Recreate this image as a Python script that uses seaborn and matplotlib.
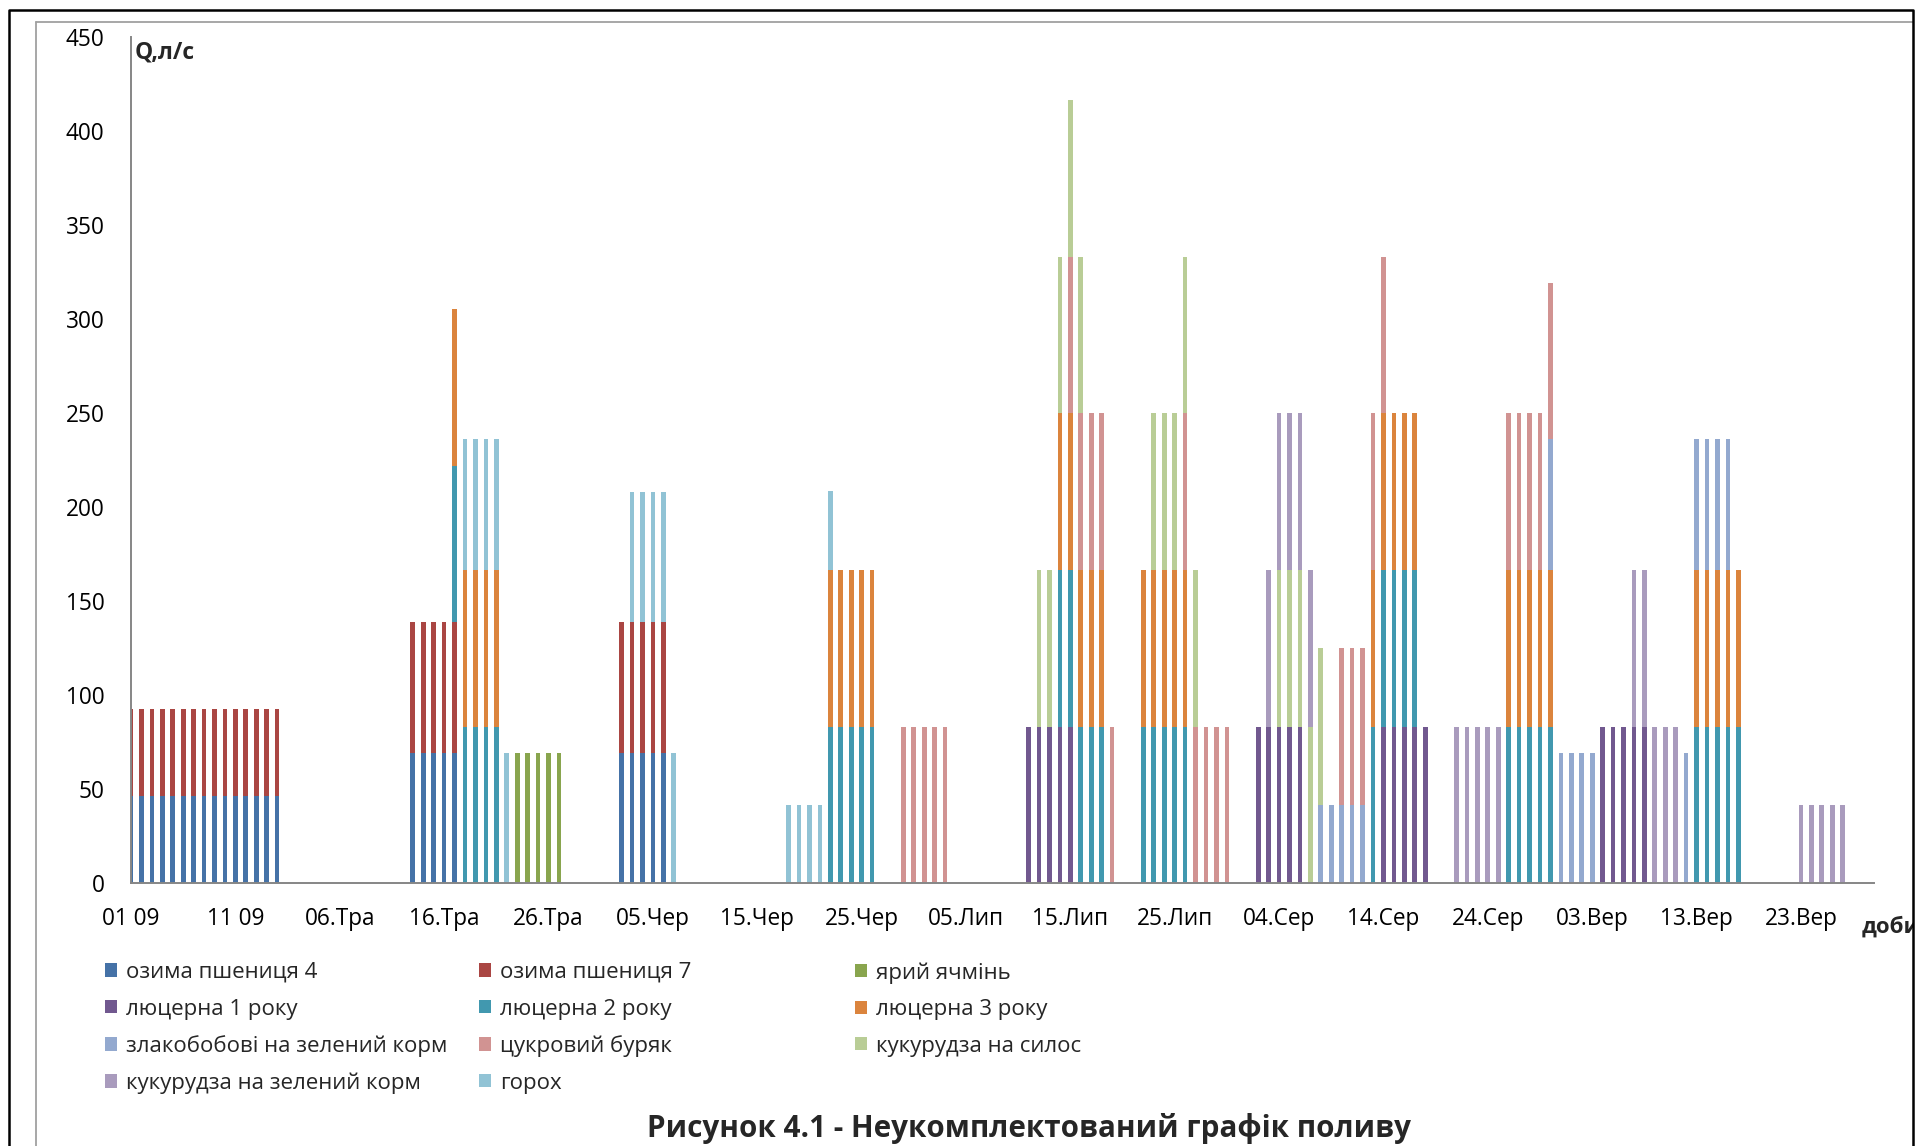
import numpy as np
import pandas as pd
import matplotlib
matplotlib.use("Agg")
import matplotlib.pyplot as plt
from matplotlib.patches import Patch, Rectangle
from matplotlib.lines import Line2D
import seaborn as sns

# Crops in stacking order (bottom to top) and their colours
crops = [
    "озима пшениця 4", "озима пшениця 7", "ярий ячмінь",
    "люцерна 1 року", "люцерна 2 року", "люцерна 3 року",
    "злакобобові на зелений корм", "цукровий буряк", "кукурудза на силос",
    "кукурудза на зелений корм", "горох",
]
colors = [
    "#4572A7", "#AA4643", "#89A54E",
    "#71588F", "#4198AF", "#DB843D",
    "#93A9CF", "#D19392", "#B9CD96",
    "#A99BBD", "#91C3D5",
]

# Irrigation periods of each crop: (first day, last day, Q in l/s); day 0 = 16 April
winter_wheat_4 = [(0, 14, 46.3), (27, 31, 69.4), (47, 51, 69.4)]
winter_wheat_7 = [(0, 14, 46.3), (27, 31, 69.4), (47, 51, 69.4)]
spring_barley = [(37, 41, 69.4)]
alfalfa_1 = [(86, 90, 83.3), (108, 112, 83.3), (120, 124, 83.3), (141, 145, 83.3)]
alfalfa_2 = [(31, 35, 83.3), (67, 71, 83.3), (89, 93, 83.3), (97, 101, 83.3),
             (119, 123, 83.3), (132, 136, 83.3), (150, 154, 83.3)]
alfalfa_3 = [(31, 35, 83.3), (67, 71, 83.3), (89, 93, 83.3), (97, 101, 83.3),
             (119, 123, 83.3), (132, 136, 83.3), (150, 154, 83.3)]
grass_legume = [(114, 118, 41.7), (136, 140, 69.4), (149, 153, 69.4)]
sugar_beet = [(74, 78, 83.3), (90, 94, 83.3), (101, 105, 83.3), (116, 120, 83.3),
              (132, 136, 83.3)]
maize_silage = [(87, 91, 83.3), (98, 102, 83.3), (110, 114, 83.3)]
maize_green = [(109, 113, 83.3), (127, 131, 83.3), (144, 148, 83.3), (160, 164, 41.7)]
peas = [(32, 36, 69.4), (48, 52, 69.4), (63, 67, 41.7)]

periods = [winter_wheat_4, winter_wheat_7, spring_barley, alfalfa_1, alfalfa_2,
           alfalfa_3, grass_legume, sugar_beet, maize_silage, maize_green, peas]

last_day = 167
tick_days = list(range(0, 161, 10))
tick_labels = ["01 09", "11 09", "06.Тра", "16.Тра", "26.Тра", "05.Чер", "15.Чер",
               "25.Чер", "05.Лип", "15.Лип", "25.Лип", "04.Сер", "14.Сер", "24.Сер",
               "03.Вер", "13.Вер", "23.Вер"]

rows = []
for crop, runs in zip(crops, periods):
    for first, last, q in runs:
        for d in range(first, last + 1):
            rows.append({"day": d, "crop": crop, "q": q})
df = pd.DataFrame(rows)

sns.set_theme(style="white")
plt.rcParams["font.family"] = ["Open Sans", "DejaVu Sans"]

W, H = 1921, 1146
fig = plt.figure(figsize=(W / 100, H / 100), dpi=100)
ax = fig.add_axes([131 / W, 1 - 883.3 / H, (1874 - 131) / W, (883.3 - 36.8) / H])

palette = dict(zip(crops, colors))
sns.histplot(data=df, x="day", weights="q", hue="crop", hue_order=crops[::-1],
             palette=palette, multiple="stack", discrete=True, shrink=0.45,
             alpha=1, linewidth=0, legend=False, ax=ax)

axis_grey = "#868686"
ax.set_xlim(0, last_day)
ax.set_ylim(0, 450)
ax.set_yticks(np.arange(0, 451, 50))
ax.set_xticks(tick_days)
ax.set_xticklabels(tick_labels)
ax.set_xlabel("")
ax.set_ylabel("")
for s in ["top", "right"]:
    ax.spines[s].set_visible(False)
for s in ["left", "bottom"]:
    ax.spines[s].set_color(axis_grey)
    ax.spines[s].set_linewidth(1.4)
ax.tick_params(axis="both", direction="out", length=7, width=1.4, color=axis_grey,
               labelsize=16.3, labelcolor="black")
ax.tick_params(axis="y", pad=12)
ax.tick_params(axis="x", pad=10)
ax.grid(False)

fig.text(135 / W, 1 - 53 / H, "Q,л/с", fontsize=16.5, fontweight="bold", va="center", ha="left")
fig.text(1862 / W, 1 - 927 / H, "доби", fontsize=16, fontweight="bold", va="center", ha="left")

# Legend: three columns, filled row by row
col_x = [105, 479, 855]
for c in range(3):
    idx = list(range(c, len(crops), 3))
    handles = [Patch(facecolor=colors[i], edgecolor="none") for i in idx]
    labels = [crops[i] for i in idx]
    fig.legend(handles, labels, loc="upper left",
               bbox_to_anchor=(col_x[c] / W, 1 - 962 / H),
               frameon=False, fontsize=16, borderpad=0, borderaxespad=0,
               handlelength=0.55, handleheight=0.55, handletextpad=0.4,
               labelspacing=0.70)

fig.text(1029 / W, 1 - 1128 / H, "Рисунок 4.1 - Неукомплектований графік поливу",
         fontsize=21.3, fontweight="bold", ha="center", va="center")

# Chart frames
fig.add_artist(Rectangle((1914 / W, 0), 10 / W, 1, transform=fig.transFigure,
                         facecolor="white", edgecolor="none", zorder=5))
fig.add_artist(Line2D([36 / W, 36 / W], [0, 1 - 22 / H], transform=fig.transFigure,
                      color="#A0A0A0", lw=1.3, zorder=6))
fig.add_artist(Line2D([36 / W, 1913 / W], [1 - 22 / H, 1 - 22 / H], transform=fig.transFigure,
                      color="#A0A0A0", lw=1.3, zorder=6))
fig.add_artist(Line2D([9 / W, 9 / W, 1913 / W, 1913 / W], [0, 1 - 10 / H, 1 - 10 / H, 0],
                      transform=fig.transFigure, color="black", lw=1.8, zorder=6))

fig.savefig("out.png", dpi=100)
